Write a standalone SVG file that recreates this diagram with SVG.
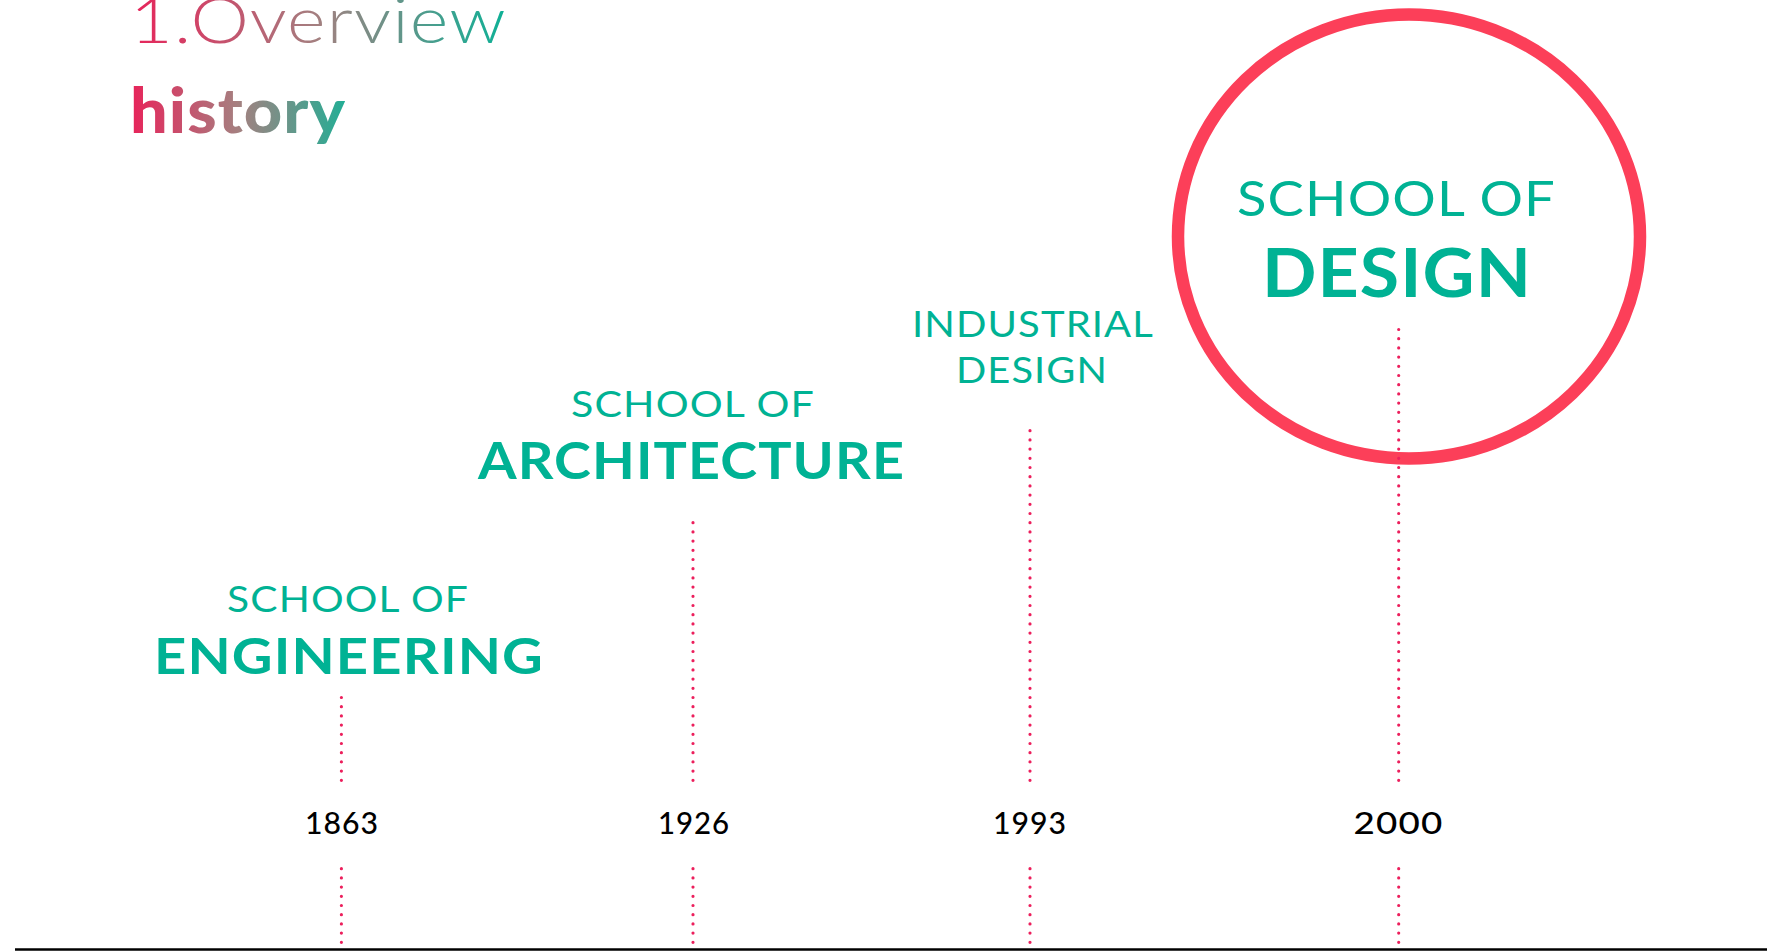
<svg xmlns="http://www.w3.org/2000/svg" width="1767" height="952" viewBox="0 0 1767 952">
<defs>
<linearGradient id="gOv" gradientUnits="userSpaceOnUse" x1="130" y1="0" x2="507" y2="0">
<stop offset="0" stop-color="#e8235a"/>
<stop offset="0.5" stop-color="#a38080"/>
<stop offset="1" stop-color="#0db196"/>
</linearGradient>
<linearGradient id="gHi" gradientUnits="userSpaceOnUse" x1="130" y1="0" x2="346" y2="0">
<stop offset="0" stop-color="#e8235a"/>
<stop offset="0.5" stop-color="#a58080"/>
<stop offset="1" stop-color="#22ae95"/>
</linearGradient>
</defs>
<style>
text{letter-spacing:1px}
.lbl{font-family:Lato,"Liberation Sans",sans-serif;fill:#00b294;font-weight:400}
.big{font-family:Lato,"Liberation Sans",sans-serif;fill:#00b294;font-weight:700}
.yr{font-family:Lato,"Liberation Sans",sans-serif;fill:#000;font-weight:500;font-size:31px}
.dot{stroke:#ec1f5c;stroke-width:3.2;stroke-linecap:round;stroke-dasharray:0 9.2;fill:none}
</style>
<rect width="1767" height="952" fill="#fff"/>
<g id="title">
<text x="130" y="43" font-family="Lato,'Liberation Sans',sans-serif" font-weight="300" font-size="63" fill="url(#gOv)" textLength="377" lengthAdjust="spacingAndGlyphs">1.Overview</text>
<text x="130" y="133" font-family="Lato,'Liberation Sans',sans-serif" font-weight="900" font-size="63" fill="url(#gHi)" textLength="216" lengthAdjust="spacingAndGlyphs">history</text>
</g>
<g id="highlight-circle">
<ellipse cx="1409" cy="236.5" rx="231" ry="222" fill="none" stroke="#fc3f59" stroke-width="12.5"/>
</g>
<g id="connectors">
<line class="dot" x1="341.4" y1="780.3" x2="341.4" y2="697"/>
<line class="dot" x1="341.4" y1="942.3" x2="341.4" y2="861"/>
<line class="dot" x1="693" y1="780.3" x2="693" y2="518"/>
<line class="dot" x1="693" y1="942.3" x2="693" y2="861"/>
<line class="dot" x1="1030" y1="780.3" x2="1030" y2="426"/>
<line class="dot" x1="1030" y1="942.3" x2="1030" y2="861"/>
<line class="dot" x1="1398.7" y1="780.3" x2="1398.7" y2="321"/>
<line class="dot" x1="1398.7" y1="942.3" x2="1398.7" y2="861"/>
<line x1="15" y1="949.5" x2="1767" y2="949.5" stroke="#000" stroke-width="2.6"/>
</g>
<g id="node-engineering">
<text class="lbl" x="227" y="611.7" font-size="36.5" textLength="242" lengthAdjust="spacingAndGlyphs">SCHOOL OF</text>
<text class="big" x="154" y="674.3" font-size="50.5" textLength="390" lengthAdjust="spacingAndGlyphs">ENGINEERING</text>
<text class="yr" x="305" y="834" textLength="74" lengthAdjust="spacingAndGlyphs">1863</text>
</g>
<g id="node-architecture">
<text class="lbl" x="571" y="416.7" font-size="36.5" textLength="244" lengthAdjust="spacingAndGlyphs">SCHOOL OF</text>
<text class="big" x="478" y="479.3" font-size="51" textLength="427" lengthAdjust="spacingAndGlyphs">ARCHITECTURE</text>
<text class="yr" x="658" y="834" textLength="72" lengthAdjust="spacingAndGlyphs">1926</text>
</g>
<g id="node-industrial">
<text class="lbl" x="912" y="336.7" font-size="37" textLength="242" lengthAdjust="spacingAndGlyphs">INDUSTRIAL</text>
<text class="lbl" x="956" y="382.7" font-size="37" textLength="152" lengthAdjust="spacingAndGlyphs">DESIGN</text>
<text class="yr" x="993" y="834" textLength="74" lengthAdjust="spacingAndGlyphs">1993</text>
</g>
<g id="node-design">
<text class="lbl" x="1237" y="215.7" font-size="48.5" textLength="319" lengthAdjust="spacingAndGlyphs">SCHOOL OF</text>
<text class="big" x="1262" y="296.7" font-size="66.5" textLength="270" lengthAdjust="spacingAndGlyphs">DESIGN</text>
<text class="yr" x="1353.5" y="834" textLength="90" lengthAdjust="spacingAndGlyphs">2000</text>
</g>
</svg>
